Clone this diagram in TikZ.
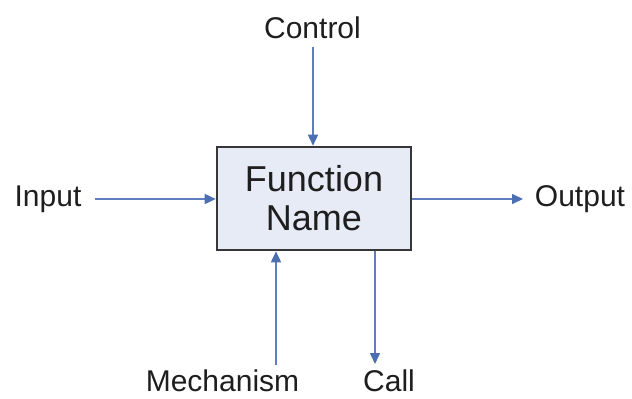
\documentclass[tikz,border=0pt]{standalone}
\usepackage{fontspec}
\setmainfont{Liberation Sans}
\usetikzlibrary{arrows.meta}
\definecolor{boxfill}{RGB}{230,235,246}
\definecolor{boxline}{RGB}{55,55,55}
\definecolor{flow}{RGB}{96,126,190}
\definecolor{tip}{RGB}{76,110,178}
\definecolor{ink}{RGB}{30,30,30}
\begin{document}
\begin{tikzpicture}[x=1pt,y=-1pt,
  fn/.style={draw=boxline,line width=2.6pt,fill=boxfill,
    minimum width=194pt,minimum height=103pt,inner sep=0pt,
    align=center,text=ink,font=\fontsize{36}{39}\selectfont},
  lbl/.style={anchor=base,inner sep=0pt,text=ink,font=\fontsize{30}{32}\selectfont},
  arr/.style={draw=flow,line width=1.5pt,
    -{Triangle[length=11pt,width=10pt,color=tip]}}]
  \useasboundingbox (0,0) rectangle (632,399);

  % the function box
  \node[fn] (box) at (314,198.5) {Function\\Name};

  % labels round the box
  \node[lbl] (ctl) at (312.5,38) {Control};
  \node[lbl] (inp) at (48,206) {Input};
  \node[lbl] (out) at (580,206) {Output};
  \node[lbl] (mech) at (222.5,391.5) {Mechanism};
  \node[lbl] (call) at (389,391.5) {Call};

  % free ends of the arrows
  \coordinate (c0) at (313,47);
  \coordinate (i0) at (95,199);
  \coordinate (o1) at (523,199);
  \coordinate (m0) at (276,365);
  \coordinate (k1) at (375,364);

  % ICOM arrows
  \draw[arr] (c0) -- (c0 |- box.north);
  \draw[arr] (i0) -- (i0 -| box.west);
  \draw[arr] (o1 -| box.east) -- (o1);
  \draw[arr] (m0) -- (m0 |- box.south);
  \draw[arr] (k1 |- box.south) -- (k1);
\end{tikzpicture}
\end{document}
